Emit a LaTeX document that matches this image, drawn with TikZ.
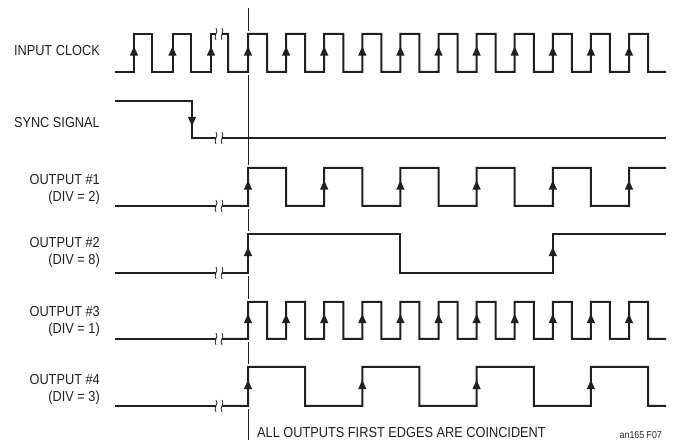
\documentclass[tikz,border=0pt]{standalone}
\usepackage{fontspec}
\setmainfont[FakeStretch=0.88]{Liberation Sans}
\definecolor{ink}{RGB}{35,31,32}
\newcommand\RiseArrow[3]{\pgfmathsetmacro\am{(#2+#3)/2}\fill[ink] ({#1},{\am-6.5}) -- ({#1-4.2},{\am+2.7}) -- ({#1+4.2},{\am+2.7}) -- cycle;}
\newcommand\FallArrow[3]{\pgfmathsetmacro\am{(#2+#3)/2}\fill[ink] ({#1},{\am+6.5}) -- ({#1-4.2},{\am-2.7}) -- ({#1+4.2},{\am-2.7}) -- cycle;}
\newcommand\BrkMark[2]{\draw[brk] ({#1},{#2-6}) .. controls ({#1+3.2},{#2-2}) and ({#1-3.2},{#2+2}) .. ({#1},{#2+6});}
\begin{document}
\begin{tikzpicture}[x=1pt,y=-1pt,
  wave/.style={line width=2pt, line join=miter, ink},
  guide/.style={line width=0.8pt, ink},
  brk/.style={line width=0.8pt, ink},
  lbl/.style={font=\fontsize{14.5}{16}\selectfont, text=ink, inner sep=0pt, anchor=base east},
]
\useasboundingbox (0,0) rectangle (673,443);

% labels
\node[lbl] (clk) at (100,56) {INPUT CLOCK};
\node[lbl] (sync) at (100,128) {SYNC SIGNAL};
\node[lbl] (o1a) at (100,185) {OUTPUT \#1};
\node[lbl] (o1b) at (100,202) {(DIV = 2)};
\node[lbl] (o2a) at (100,248) {OUTPUT \#2};
\node[lbl] (o2b) at (100,265) {(DIV = 8)};
\node[lbl] (o3a) at (100,317) {OUTPUT \#3};
\node[lbl] (o3b) at (100,334) {(DIV = 1)};
\node[lbl] (o4a) at (100,385) {OUTPUT \#4};
\node[lbl] (o4b) at (100,402) {(DIV = 3)};
\node[lbl, anchor=base west] (note) at (257,438) {ALL OUTPUTS FIRST EDGES ARE COINCIDENT};
\node[font=\fontsize{10}{11}\selectfont, text=ink, inner sep=0pt, anchor=base east] (fig) at (662,439) {an165 F07};

% guide line
\draw[guide] (248,8) -- (248,31);
\draw[guide] (248,75) -- (248,165);
\draw[guide] (248,209) -- (248,231);
\draw[guide] (248,276) -- (248,299);
\draw[guide] (248,342) -- (248,364);
\draw[guide] (248,409) -- (248,440);

% input clock
\draw[wave] (115,72) -- (134,72) -- (134,34) -- (152,34) -- (152,72) -- (172.5,72) -- (172.5,34) -- (190.5,34) -- (190.5,72) -- (211,72) -- (211,34) -- (216,34);
\draw[wave] (222,34) -- (228,34) -- (228,72) -- (248,72)
  \foreach \k in {0,...,9} { -- ({248+38.1*\k},34) -- ({267.05+38.1*\k},34) -- ({267.05+38.1*\k},72) -- ({286.1+38.1*\k},72) }
  -- (629,34) -- (648,34) -- (648,72) -- (666,72);
\foreach \x in {134,172.5,211} {\RiseArrow{\x}{72}{34}}
\foreach \k in {0,...,10} {\RiseArrow{248+38.1*\k}{72}{34}}
\BrkMark{216}{34}\BrkMark{222}{34}

% sync signal
\draw[wave] (115,101) -- (192,101) -- (192,138) -- (216,138);
\draw[wave] (222,138) -- (666,138);
\FallArrow{192}{101}{138}
\BrkMark{216}{138}\BrkMark{222}{138}

% output 1
\draw[wave] (115,206) -- (216,206);
\draw[wave] (222,206) -- (248,206)
  \foreach \k in {0,2,4,6,8} { -- ({248+38.1*\k},168) -- ({286.1+38.1*\k},168) -- ({286.1+38.1*\k},206) -- ({324.2+38.1*\k},206) }
  -- (629,168) -- (666,168);
\foreach \k in {0,2,4,6,8,10} {\RiseArrow{248+38.1*\k}{206}{168}}
\BrkMark{216}{206}\BrkMark{222}{206}

% output 2
\draw[wave] (115,273) -- (216,273);
\draw[wave] (222,273) -- (248,273) -- (248,234) -- (400.4,234) -- (400.4,273) -- (552.8,273) -- (552.8,234) -- (666,234);
\RiseArrow{248}{273}{234}
\RiseArrow{552.8}{273}{234}
\BrkMark{216}{273}\BrkMark{222}{273}

% output 3
\draw[wave] (115,339) -- (216,339);
\draw[wave] (222,339) -- (248,339)
  \foreach \k in {0,...,9} { -- ({248+38.1*\k},302) -- ({267.05+38.1*\k},302) -- ({267.05+38.1*\k},339) -- ({286.1+38.1*\k},339) }
  -- (629,302) -- (648,302) -- (648,339) -- (666,339);
\foreach \k in {0,...,10} {\RiseArrow{248+38.1*\k}{339}{302}}
\BrkMark{216}{339}\BrkMark{222}{339}

% output 4
\draw[wave] (115,406) -- (216,406);
\draw[wave] (222,406) -- (248,406)
  \foreach \k in {0,3,6} { -- ({248+38.1*\k},367) -- ({305.15+38.1*\k},367) -- ({305.15+38.1*\k},406) -- ({362.3+38.1*\k},406) }
  -- (590.9,367) -- (648,367) -- (648,406) -- (666,406);
\foreach \k in {0,3,6,9} {\RiseArrow{248+38.1*\k}{406}{367}}
\BrkMark{216}{406}\BrkMark{222}{406}
\end{tikzpicture}
\end{document}
